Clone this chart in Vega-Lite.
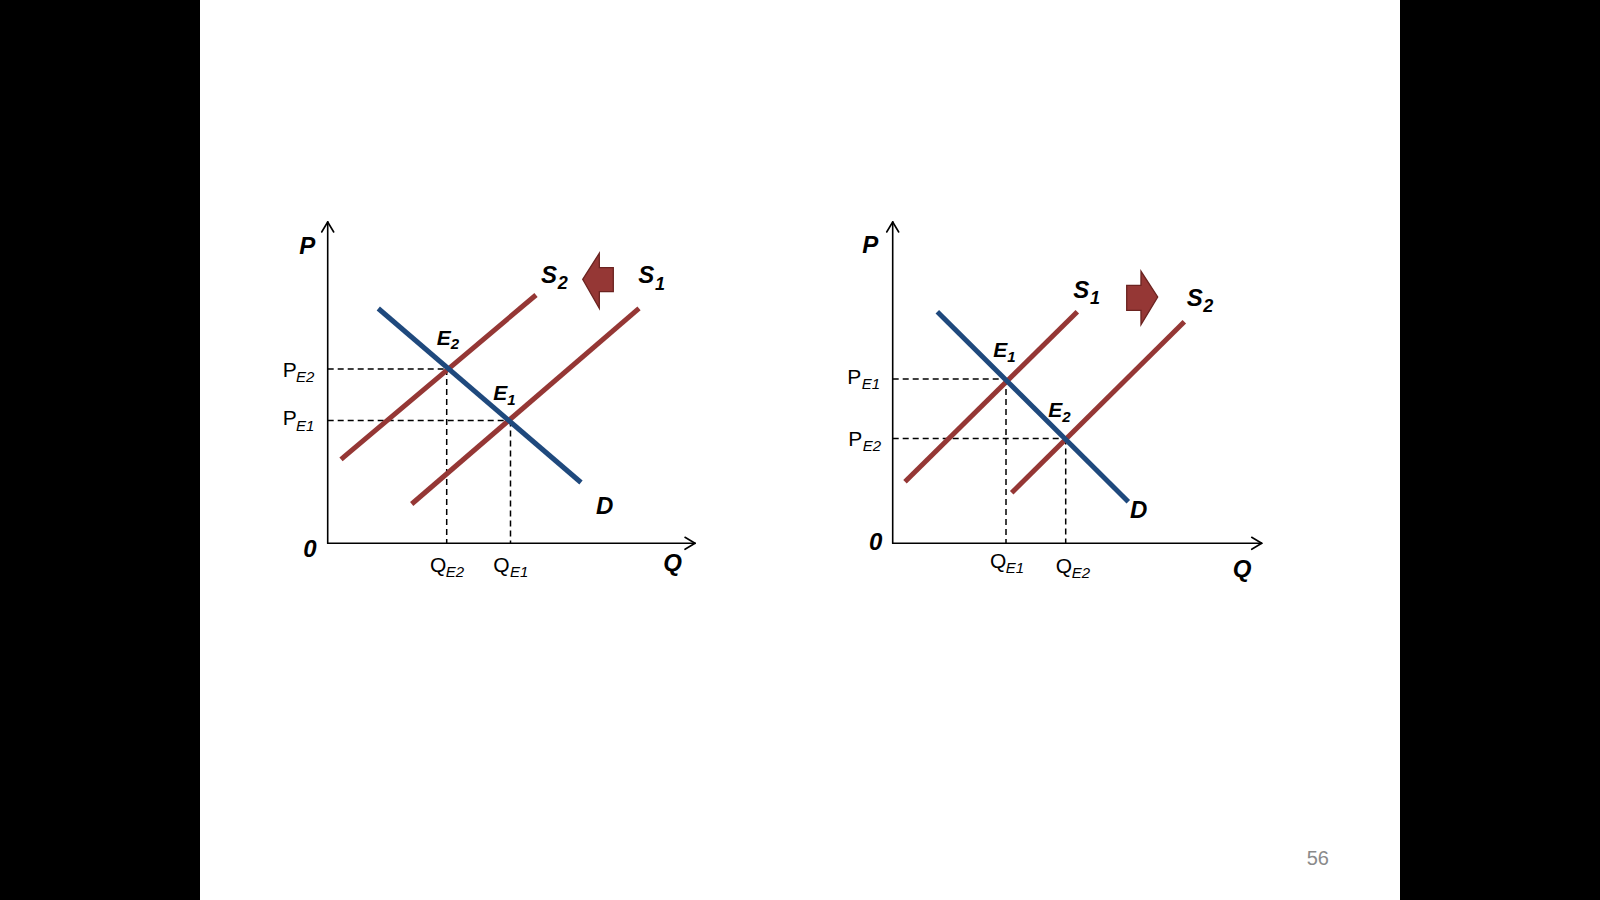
{
  "$schema": "https://vega.github.io/schema/vega-lite/v6.json",
  "width": 1600,
  "height": 900,
  "autosize": {"type": "fit", "contains": "padding"},
  "padding": 0,
  "background": "black",
  "config": {"view": {"stroke": null}},
  "datasets": {
    "slide": [{"x": 200, "x2": 1400, "y": 0, "y2": 900}],
    "seg": [
      {"kind": "axis", "x": 327.7, "y": 543.3, "x2": 327.7, "y2": 222},
      {"kind": "axis", "x": 327.7, "y": 543.3, "x2": 695, "y2": 543.3},
      {"kind": "axis", "x": 321.7, "y": 232, "x2": 327.7, "y2": 222},
      {"kind": "axis", "x": 333.7, "y": 232, "x2": 327.7, "y2": 222},
      {"kind": "axis", "x": 685, "y": 537.3, "x2": 695, "y2": 543.3},
      {"kind": "axis", "x": 685, "y": 549.3, "x2": 695, "y2": 543.3},
      {"kind": "axis", "x": 892.7, "y": 543.3, "x2": 892.7, "y2": 222},
      {"kind": "axis", "x": 892.7, "y": 543.3, "x2": 1261.7, "y2": 543.3},
      {"kind": "axis", "x": 886.7, "y": 232, "x2": 892.7, "y2": 222},
      {"kind": "axis", "x": 898.7, "y": 232, "x2": 892.7, "y2": 222},
      {"kind": "axis", "x": 1251.7, "y": 537.3, "x2": 1261.7, "y2": 543.3},
      {"kind": "axis", "x": 1251.7, "y": 549.3, "x2": 1261.7, "y2": 543.3},
      {"kind": "guide", "x": 327.7, "y": 369, "x2": 446.7, "y2": 369},
      {"kind": "guide", "x": 446.7, "y": 369, "x2": 446.7, "y2": 543.3},
      {"kind": "guide", "x": 327.7, "y": 420.5, "x2": 510.5, "y2": 420.5},
      {"kind": "guide", "x": 510.5, "y": 420.5, "x2": 510.5, "y2": 543.3},
      {"kind": "guide", "x": 892.7, "y": 379, "x2": 1006, "y2": 379},
      {"kind": "guide", "x": 1006, "y": 379, "x2": 1006, "y2": 543.3},
      {"kind": "guide", "x": 892.7, "y": 438.5, "x2": 1065.7, "y2": 438.5},
      {"kind": "guide", "x": 1065.7, "y": 438.5, "x2": 1065.7, "y2": 543.3},
      {"kind": "supply", "x": 341, "y": 459.3, "x2": 536, "y2": 295},
      {"kind": "supply", "x": 411.7, "y": 504, "x2": 639, "y2": 308.3},
      {"kind": "supply", "x": 905, "y": 481.7, "x2": 1077.3, "y2": 311.7},
      {"kind": "supply", "x": 1011.7, "y": 492.7, "x2": 1184.3, "y2": 321.7},
      {"kind": "demand", "x": 378.3, "y": 308.5, "x2": 581, "y2": 482.5},
      {"kind": "demand", "x": 937.3, "y": 311.7, "x2": 1128.3, "y2": 501.7}
    ],
    "shift": [
      {"id": "left", "x": 582.7, "y": 279.3, "y2": 279.3},
      {"id": "left", "x": 599.3, "y": 253.3, "y2": 308.3},
      {"id": "left", "x": 599.35, "y": 267.7, "y2": 291.7},
      {"id": "left", "x": 613.3, "y": 267.7, "y2": 291.7},
      {"id": "right", "x": 1126.7, "y": 285.3, "y2": 310.3},
      {"id": "right", "x": 1140.95, "y": 285.3, "y2": 310.3},
      {"id": "right", "x": 1141, "y": 271.3, "y2": 324.7},
      {"id": "right", "x": 1157.7, "y": 297, "y2": 297}
    ],
    "labels": [
      {"role": "curve", "text": "P", "x": 299.3, "y": 254.3},
      {"role": "curve", "text": "S", "x": 541, "y": 283.3},
      {"role": "curveSub", "text": "2", "x": 557.7, "y": 289.3},
      {"role": "curve", "text": "S", "x": 638.3, "y": 283},
      {"role": "curveSub", "text": "1", "x": 655, "y": 290},
      {"role": "point", "text": "E", "x": 436.7, "y": 345},
      {"role": "pointSub", "text": "2", "x": 450.7, "y": 349.3},
      {"role": "point", "text": "E", "x": 493.3, "y": 400},
      {"role": "pointSub", "text": "1", "x": 507.3, "y": 405},
      {"role": "curve", "text": "D", "x": 596, "y": 514},
      {"role": "curve", "text": "0", "x": 303.3, "y": 556.7},
      {"role": "curve", "text": "Q", "x": 663.3, "y": 570.7},
      {"role": "value", "text": "P", "x": 282.7, "y": 376.7},
      {"role": "valueSub", "text": "E2", "x": 296, "y": 381.7},
      {"role": "value", "text": "P", "x": 282.7, "y": 425},
      {"role": "valueSub", "text": "E1", "x": 296, "y": 430.7},
      {"role": "value", "text": "Q", "x": 430, "y": 571.7},
      {"role": "valueSub", "text": "E2", "x": 445.7, "y": 576.7},
      {"role": "value", "text": "Q", "x": 493.3, "y": 571.7},
      {"role": "valueSub", "text": "E1", "x": 510, "y": 576.7},
      {"role": "curve", "text": "P", "x": 862.3, "y": 252.7},
      {"role": "curve", "text": "S", "x": 1073.3, "y": 298.3},
      {"role": "curveSub", "text": "1", "x": 1090, "y": 304.3},
      {"role": "curve", "text": "S", "x": 1186.7, "y": 305.7},
      {"role": "curveSub", "text": "2", "x": 1203.3, "y": 311.7},
      {"role": "point", "text": "E", "x": 993.3, "y": 356.7},
      {"role": "pointSub", "text": "1", "x": 1007.3, "y": 361.7},
      {"role": "point", "text": "E", "x": 1048.3, "y": 416.7},
      {"role": "pointSub", "text": "2", "x": 1062.3, "y": 422.3},
      {"role": "curve", "text": "D", "x": 1130, "y": 518.3},
      {"role": "curve", "text": "0", "x": 869, "y": 550},
      {"role": "curve", "text": "Q", "x": 1232.7, "y": 576.7},
      {"role": "value", "text": "P", "x": 847.3, "y": 384},
      {"role": "valueSub", "text": "E1", "x": 861.7, "y": 389},
      {"role": "value", "text": "P", "x": 848.3, "y": 445.7},
      {"role": "valueSub", "text": "E2", "x": 862.7, "y": 450.7},
      {"role": "value", "text": "Q", "x": 990, "y": 568.3},
      {"role": "valueSub", "text": "E1", "x": 1005.7, "y": 573.3},
      {"role": "value", "text": "Q", "x": 1055.7, "y": 573.3},
      {"role": "valueSub", "text": "E2", "x": 1071.7, "y": 578.3},
      {"role": "page", "text": "56", "x": 1306.7, "y": 865}
    ]
  },
  "encoding": {
    "x": {"field": "x", "type": "quantitative", "scale": {"domain": [0, 1600], "nice": false, "zero": false}, "axis": null},
    "y": {"field": "y", "type": "quantitative", "scale": {"domain": [0, 900], "nice": false, "zero": false, "reverse": true}, "axis": null}
  },
  "layer": [
    {
      "data": {"name": "slide"},
      "mark": {"type": "rect", "fill": "white"},
      "encoding": {"x2": {"field": "x2"}, "y2": {"field": "y2"}}
    },
    {
      "data": {"name": "seg"},
      "transform": [{"filter": "datum.kind === 'guide'"}],
      "mark": {"type": "rule", "color": "black", "strokeWidth": 1.5, "strokeDash": [6, 4]},
      "encoding": {"x2": {"field": "x2"}, "y2": {"field": "y2"}}
    },
    {
      "data": {"name": "seg"},
      "transform": [{"filter": "datum.kind === 'axis'"}],
      "mark": {"type": "rule", "color": "black", "strokeWidth": 1.6, "strokeCap": "round"},
      "encoding": {"x2": {"field": "x2"}, "y2": {"field": "y2"}}
    },
    {
      "data": {"name": "seg"},
      "transform": [{"filter": "datum.kind === 'supply'"}],
      "mark": {"type": "rule", "color": "#953735", "strokeWidth": 5},
      "encoding": {"x2": {"field": "x2"}, "y2": {"field": "y2"}}
    },
    {
      "data": {"name": "seg"},
      "transform": [{"filter": "datum.kind === 'demand'"}],
      "mark": {"type": "rule", "color": "#1F497D", "strokeWidth": 5},
      "encoding": {"x2": {"field": "x2"}, "y2": {"field": "y2"}}
    },
    {
      "data": {"name": "shift"},
      "mark": {"type": "area", "orient": "vertical", "fill": "#953735", "stroke": "#6B2320", "strokeWidth": 1.3, "interpolate": "linear", "opacity": 1},
      "encoding": {
        "y": {"field": "y", "type": "quantitative", "stack": null},
        "y2": {"field": "y2"},
        "detail": {"field": "id"}
      }
    },
    {
      "data": {"name": "labels"},
      "transform": [{"filter": "datum.role === 'curve'"}],
      "mark": {"type": "text", "font": "Liberation Sans", "fontSize": 24, "fontWeight": "bold", "fontStyle": "italic", "align": "left", "baseline": "alphabetic", "color": "black"},
      "encoding": {"text": {"field": "text"}}
    },
    {
      "data": {"name": "labels"},
      "transform": [{"filter": "datum.role === 'curveSub'"}],
      "mark": {"type": "text", "font": "Liberation Sans", "fontSize": 18, "fontWeight": "bold", "fontStyle": "italic", "align": "left", "baseline": "alphabetic", "color": "black"},
      "encoding": {"text": {"field": "text"}}
    },
    {
      "data": {"name": "labels"},
      "transform": [{"filter": "datum.role === 'point'"}],
      "mark": {"type": "text", "font": "Liberation Sans", "fontSize": 21, "fontWeight": "bold", "fontStyle": "italic", "align": "left", "baseline": "alphabetic", "color": "black"},
      "encoding": {"text": {"field": "text"}}
    },
    {
      "data": {"name": "labels"},
      "transform": [{"filter": "datum.role === 'pointSub'"}],
      "mark": {"type": "text", "font": "Liberation Sans", "fontSize": 15, "fontWeight": "bold", "fontStyle": "italic", "align": "left", "baseline": "alphabetic", "color": "black"},
      "encoding": {"text": {"field": "text"}}
    },
    {
      "data": {"name": "labels"},
      "transform": [{"filter": "datum.role === 'value'"}],
      "mark": {"type": "text", "font": "Liberation Sans", "fontSize": 21, "align": "left", "baseline": "alphabetic", "color": "black"},
      "encoding": {"text": {"field": "text"}}
    },
    {
      "data": {"name": "labels"},
      "transform": [{"filter": "datum.role === 'valueSub'"}],
      "mark": {"type": "text", "font": "Liberation Sans", "fontSize": 15, "fontStyle": "italic", "align": "left", "baseline": "alphabetic", "color": "black"},
      "encoding": {"text": {"field": "text"}}
    },
    {
      "data": {"name": "labels"},
      "transform": [{"filter": "datum.role === 'page'"}],
      "mark": {"type": "text", "font": "Liberation Sans", "fontSize": 20, "align": "left", "baseline": "alphabetic", "color": "#8A8A8A"},
      "encoding": {"text": {"field": "text"}}
    }
  ]
}
